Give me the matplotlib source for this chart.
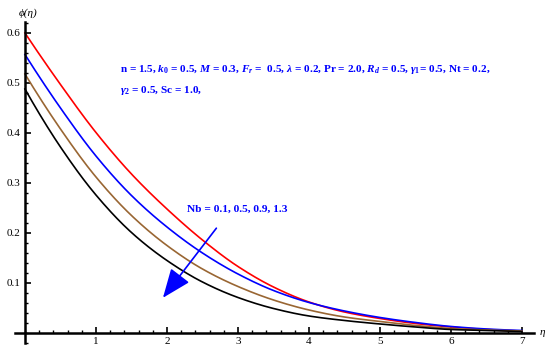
import numpy as np
import matplotlib
matplotlib.use("Agg")
import matplotlib.pyplot as plt
from matplotlib.ticker import MultipleLocator

plt.rcParams['font.family'] = ['Liberation Serif', 'DejaVu Serif']
plt.rcParams['mathtext.fontset'] = 'custom'
plt.rcParams['mathtext.rm'] = 'Liberation Serif:bold'
plt.rcParams['mathtext.it'] = 'Liberation Serif:italic:bold'
plt.rcParams['mathtext.bf'] = 'Liberation Serif:bold'

# values
eta = [0, 0.5, 1, 1.5, 2, 2.5, 3, 3.5, 4, 4.5, 5, 5.5, 6, 6.5, 7]
phi_nb01 = [0.600, 0.497, 0.401, 0.318, 0.248, 0.186, 0.133, 0.092, 0.062, 0.042, 0.029, 0.019, 0.012, 0.007, 0.004]
phi_nb05 = [0.557, 0.450, 0.354, 0.275, 0.212, 0.160, 0.118, 0.085, 0.061, 0.044, 0.031, 0.021, 0.013, 0.008, 0.005]
phi_nb09 = [0.518, 0.408, 0.312, 0.235, 0.175, 0.128, 0.093, 0.066, 0.046, 0.032, 0.023, 0.015, 0.009, 0.006, 0.004]
phi_nb13 = [0.488, 0.372, 0.276, 0.201, 0.145, 0.102, 0.071, 0.049, 0.034, 0.025, 0.018, 0.012, 0.007, 0.005, 0.003]

curves = [phi_nb01, phi_nb05, phi_nb09, phi_nb13]
colors = ['#ff0000', '#0000ff', '#996633', '#000000']


def pchip(x, y, xf):
    # monotone cubic through the read points
    x = np.asarray(x, float)
    y = np.asarray(y, float)
    h = np.diff(x)
    d = np.diff(y) / h
    m = np.zeros_like(y)
    for k in range(1, len(y) - 1):
        if d[k - 1] * d[k] > 0:
            w1 = 2 * h[k] + h[k - 1]
            w2 = h[k] + 2 * h[k - 1]
            m[k] = (w1 + w2) / (w1 / d[k - 1] + w2 / d[k])
    m[0] = ((2 * h[0] + h[1]) * d[0] - h[0] * d[1]) / (h[0] + h[1])
    m[-1] = ((2 * h[-1] + h[-2]) * d[-1] - h[-1] * d[-2]) / (h[-1] + h[-2])
    i = np.clip(np.searchsorted(x, xf) - 1, 0, len(h) - 1)
    t = (xf - x[i]) / h[i]
    h00 = 2 * t**3 - 3 * t**2 + 1
    h10 = t**3 - 2 * t**2 + t
    h01 = -2 * t**3 + 3 * t**2
    h11 = t**3 - t**2
    return h00 * y[i] + h10 * h[i] * m[i] + h01 * y[i + 1] + h11 * h[i] * m[i + 1]


fig = plt.figure(figsize=(5.5, 3.54), dpi=100)
ax = fig.add_axes([0.0273, 0.0311, 0.9436, 0.9068])

eta_fine = np.linspace(0, 7, 400)
for phi, c in zip(curves, colors):
    ax.plot(eta_fine, pchip(eta, phi, eta_fine), color=c, lw=1.2)

ax.set_xlim(-0.14, 7.17)
ax.set_ylim(-0.02, 0.622)

for s in ['top', 'right']:
    ax.spines[s].set_visible(False)
ax.spines['left'].set_position(('data', 0))
ax.spines['bottom'].set_position(('data', 0))
ax.spines['left'].set_linewidth(1.8)
ax.spines['bottom'].set_linewidth(1.8)

ax.xaxis.set_major_locator(MultipleLocator(1))
ax.xaxis.set_minor_locator(MultipleLocator(0.2))
ax.yaxis.set_major_locator(MultipleLocator(0.1))
ax.yaxis.set_minor_locator(MultipleLocator(0.02))
ax.tick_params(which='major', direction='in', length=4, width=1.2, labelsize=8, pad=3)
ax.tick_params(which='minor', direction='in', length=2, width=1)
ax.set_xticks([1, 2, 3, 4, 5, 6, 7])
ax.set_xticklabels(['1', '2', '3', '4', '5', '6', '7'])
ax.set_yticks([0.1, 0.2, 0.3, 0.4, 0.5, 0.6])
ax.set_yticklabels(['0.1', '0.2', '0.3', '0.4', '0.5', '0.6'])

ax.text(7.25, 0.0, 'η', style='italic', fontsize=8, va='center', ha='left', clip_on=False)
ax.text(0.05, 0.64, 'ϕ(η)', style='italic', fontsize=8, va='center', ha='center', clip_on=False)

line1 = (r'n = 1.5, $k_0$ = 0.5, $M$ = 0.3, $F_r$ =  0.5, $\lambda$ = 0.2, Pr = 2.0, '
         r'$R_d$ = 0.5, $\gamma_1$= 0.5, Nt = 0.2,')
line2 = r'$\gamma_2$ = 0.5, Sc = 1.0,'
ax.text(1.34, 0.526, line1, color='#0000ff', fontsize=8.1, fontweight='bold', va='center')
ax.text(1.34, 0.484, line2, color='#0000ff', fontsize=8.1, fontweight='bold', va='center')

ax.text(2.99, 0.248, 'Nb = 0.1, 0.5, 0.9, 1.3', color='#0000ff', fontsize=8.2,
        fontweight='bold', ha='center', va='center')
ax.annotate('', xy=(1.92, 0.066), xytext=(2.72, 0.214),
            arrowprops=dict(arrowstyle='-|>,head_length=1.5,head_width=0.6',
                            color='#0000ff', lw=1.2, mutation_scale=12))

fig.savefig('out.png', dpi=100)
